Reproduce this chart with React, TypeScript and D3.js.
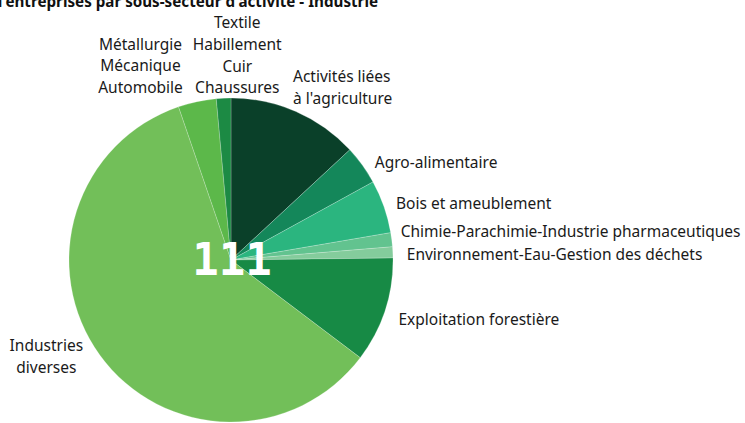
import React, { useEffect, useRef } from 'react';
import * as d3 from 'd3';

// Share of companies per sub-sector (percent)
const sectors = [
    "Activités liées\nà l'agriculture",
    'Agro-alimentaire',
    'Bois et ameublement',
    'Chimie-Parachimie-Industrie pharmaceutiques',
    'Environnement-Eau-Gestion des déchets',
    'Exploitation forestière',
    'Industries\ndiverses',
    'Métallurgie\nMécanique\nAutomobile',
    'Textile\nHabillement\nCuir\nChaussures',
];
const shares = [13.1, 3.9, 5.3, 1.4, 1.1, 10.5, 59.45, 3.8, 1.45];
const totalLabel = '111';
const title = "Nombre d'entreprises par sous-secteur d'activité - Industrie";

const colors = ['#0a4029', '#14875a', '#2bb57f', '#62c38f', '#84cc9c', '#178a45', '#72bf59', '#5cb84a', '#1c8a44'];

// label nudges relative to the point just outside each slice
const labelLayout: { anchor: string; dx: number; dy: number }[] = [
    { anchor: 'start', dx: -6, dy: -17 },
    { anchor: 'start', dx: 6, dy: 2 },
    { anchor: 'start', dx: 4.5, dy: 0 },
    { anchor: 'start', dx: 1, dy: -7 },
    { anchor: 'start', dx: 6, dy: 2 },
    { anchor: 'start', dx: 6, dy: 6 },
    { anchor: 'middle', dx: -47, dy: -3 },
    { anchor: 'middle', dx: -55, dy: -28 },
    { anchor: 'middle', dx: 14, dy: -35 },
];

export default function App() {
    const svgRef = useRef<SVGSVGElement | null>(null);

    useEffect(() => {
        if (!svgRef.current) return;
        const width = 745;
        const height = 423;
        const cx = 231;
        const cy = 260;
        const radius = 162;
        const lineH = 21.7;
        const font = '"Noto Sans", sans-serif';

        const svg = d3.select(svgRef.current);
        svg.selectAll('*').remove();
        svg.attr('width', width).attr('height', height).attr('viewBox', `0 0 ${width} ${height}`);

        // title, partly above the top edge as in the source image
        svg.append('text')
            .attr('x', 378)
            .attr('y', 7)
            .attr('text-anchor', 'end')
            .style('font-family', font)
            .style('font-weight', 'bold')
            .style('font-size', '15.2px')
            .attr('fill', '#111')
            .text(title);

        const data = shares.map((v, i) => ({ name: sectors[i], value: v, i }));
        const pie = d3.pie<any>().value((d: any) => d.value).sort(null);
        const arcs = pie(data);
        const arc = d3.arc<any>().innerRadius(0).outerRadius(radius);

        const g = svg.append('g').attr('transform', `translate(${cx},${cy})`);

        g.selectAll('path.slice')
            .data(arcs)
            .enter()
            .append('path')
            .attr('class', 'slice')
            .attr('d', arc)
            .attr('fill', (d: any) => colors[d.data.i])
            .attr('stroke', 'rgba(255,255,255,0.35)')
            .attr('stroke-width', 0.6);

        // labels
        arcs.forEach((a: any) => {
            const mid = (a.startAngle + a.endAngle) / 2;
            const r = radius + 8;
            const px = Math.sin(mid) * r;
            const py = -Math.cos(mid) * r;
            const lay = labelLayout[a.data.i];
            const lines = a.data.name.split('\n');
            const blockCenter = py + lay.dy;
            const firstY = blockCenter - ((lines.length - 1) * lineH) / 2 + 5.5;
            const t = g.append('text')
                .attr('text-anchor', lay.anchor)
                .style('font-family', font)
                .style('font-size', '15.5px')
                .attr('fill', '#1a1a1a');
            lines.forEach((ln: string, k: number) => {
                t.append('tspan')
                    .attr('x', px + lay.dx)
                    .attr('y', firstY + k * lineH)
                    .text(ln);
            });
        });

        g.append('text')
            .attr('x', 1)
            .attr('y', 15)
            .attr('text-anchor', 'middle')
            .style('font-family', '"DejaVu Sans Mono", monospace')
            .style('font-weight', 'bold')
            .style('font-size', '44px')
            .attr('fill', '#ffffff')
            .text(totalLabel);
    }, []);

    return (
        <div style={{ position: 'fixed', left: 0, top: 0, width: 745, height: 423, background: '#fff' }}>
            <svg ref={svgRef} style={{ display: 'block' }} />
        </div>
    );
}
